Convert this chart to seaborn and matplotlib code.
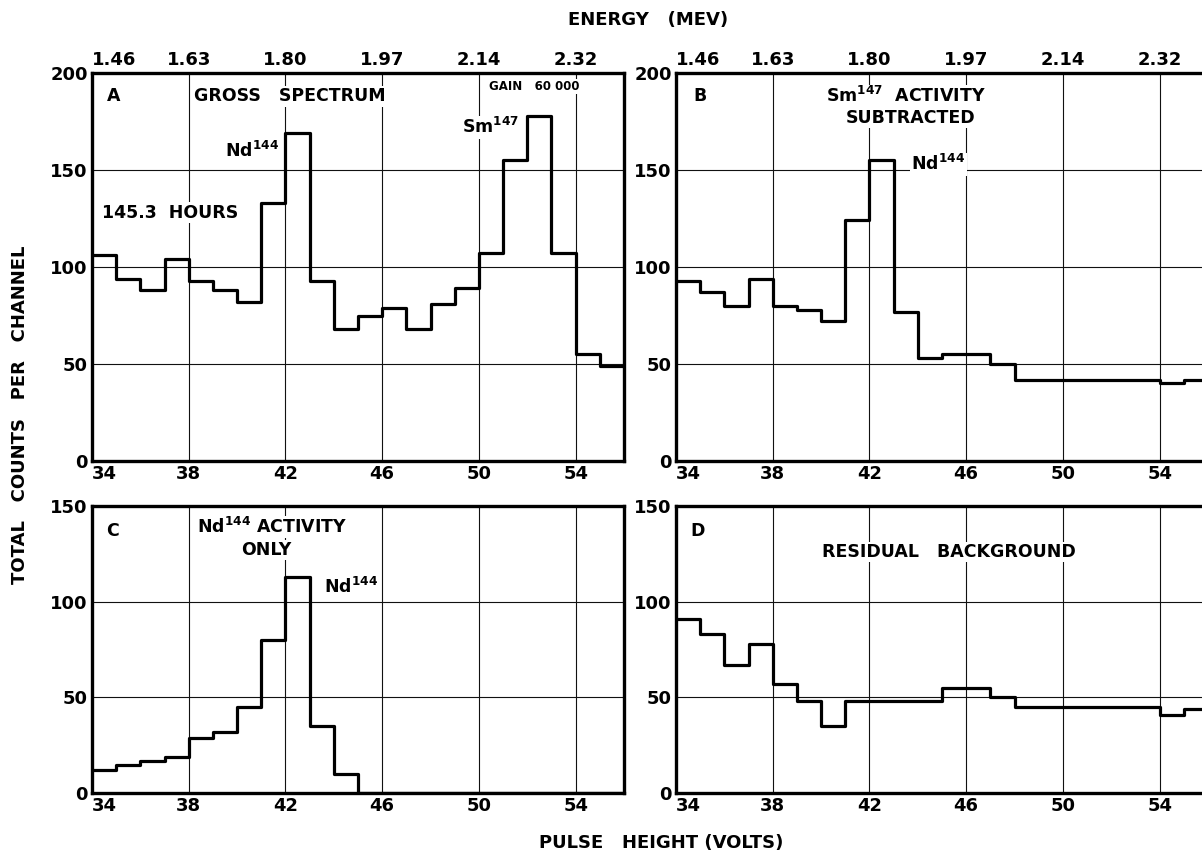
import numpy as np
import pandas as pd
import matplotlib
matplotlib.use('Agg')
import matplotlib.pyplot as plt
import seaborn as sns

sns.set_style('white')
plt.rcParams['font.family'] = ['DejaVu Sans']
plt.rcParams['font.weight'] = 'bold'
plt.rcParams['mathtext.default'] = 'regular'
plt.rcParams['text.color'] = 'black'
plt.rcParams['xtick.color'] = 'black'
plt.rcParams['ytick.color'] = 'black'

# channel edges (pulse height, volts) -- 22 one-volt channels from 34 to 56
volt_edges = list(range(34, 57))
volt_ticks = [34, 38, 42, 46, 50, 54]
energy_labels = ['1.46', '1.63', '1.80', '1.97', '2.14', '2.32']

# counts per channel
gross = [106, 94, 88, 104, 93, 88, 82, 133, 169, 93, 68, 75, 79, 68, 81, 89,
         107, 155, 178, 107, 55, 49]
sm_subtracted = [93, 87, 80, 94, 80, 78, 72, 124, 155, 77, 53, 55, 55, 50,
                 42, 42, 42, 42, 42, 42, 40, 42]
nd_only = [12, 14.5, 16.5, 19, 29, 32, 45, 80, 113, 35, 10,
           0, 0, 0, 0, 0, 0, 0, 0, 0, 0, 0]
residual = [91, 83, 67, 78, 57, 48, 35, 48, 48, 48, 48, 55, 55, 50,
            45, 45, 45, 45, 45, 45, 41, 44]

W, H = 1202, 852
fig = plt.figure(figsize=(W / 100, H / 100), dpi=100)


def rect(x0, y0, x1, y1):
    return [x0 / W, 1 - y1 / H, (x1 - x0) / W, (y1 - y0) / H]


def note(ax, x, y, s, size=12.5, ha='center'):
    ax.text(x, y, s, fontsize=size, ha=ha, va='center', zorder=4,
            bbox=dict(facecolor='white', edgecolor='none', pad=1.0))


def panel(box, counts, ymax, yticks, top_energy):
    ax = fig.add_axes(rect(*box))
    df = pd.DataFrame({'volts': volt_edges, 'counts': counts + [counts[-1]]})
    sns.lineplot(data=df, x='volts', y='counts', drawstyle='steps-post',
                 estimator=None, color='black', linewidth=2.3, ax=ax, zorder=5)
    ax.set_xlim(34, 56)
    ax.set_ylim(0, ymax)
    ax.set_xlabel('')
    ax.set_ylabel('')
    for v in volt_ticks[1:]:
        ax.axvline(v, color='#111111', linewidth=0.8, zorder=1)
    for t in yticks[1:-1]:
        ax.axhline(t, color='#111111', linewidth=0.8, zorder=1)
    ax.set_xticks(volt_ticks)
    ax.set_xticklabels([str(v) for v in volt_ticks], fontsize=13)
    ax.get_xticklabels()[0].set_ha('left')
    ax.set_yticks(yticks)
    ax.set_yticklabels([str(t) for t in yticks], fontsize=13)
    ax.tick_params(length=0, pad=3)
    for sp in ax.spines.values():
        sp.set_visible(True)
        sp.set_linewidth(2.4)
        sp.set_color('black')
    if top_energy:
        sec = ax.secondary_xaxis('top', functions=(lambda x: x, lambda x: x))
        sec.set_xticks(volt_ticks)
        sec.set_xticklabels(energy_labels, fontsize=13)
        sec.get_xticklabels()[0].set_ha('left')
        sec.tick_params(length=0, pad=3)
        for sp in sec.spines.values():
            sp.set_visible(False)
    return ax


ax_a = panel((92, 73, 624, 461), gross, 200, [0, 50, 100, 150, 200], True)
ax_b = panel((676, 73, 1208, 461), sm_subtracted, 200, [0, 50, 100, 150, 200], True)
ax_c = panel((92, 506, 624, 793), nd_only, 150, [0, 50, 100, 150], False)
ax_d = panel((676, 506, 1208, 793), residual, 150, [0, 50, 100, 150], False)

# panel A
note(ax_a, 34.9, 188, 'A')
note(ax_a, 42.2, 188, 'GROSS   SPECTRUM')
note(ax_a, 52.3, 193, 'GAIN   60 000', size=8.5)
note(ax_a, 50.5, 172, 'Sm$^{147}$')
note(ax_a, 40.6, 160, 'Nd$^{144}$')
note(ax_a, 37.25, 128, '145.3  HOURS')

# panel B
note(ax_b, 35.0, 188, 'B')
note(ax_b, 43.5, 188, 'Sm$^{147}$  ACTIVITY')
note(ax_b, 43.7, 177, 'SUBTRACTED')
note(ax_b, 44.85, 153, 'Nd$^{144}$')

# panel C
note(ax_c, 34.85, 137, 'C')
note(ax_c, 41.45, 139, 'Nd$^{144}$ ACTIVITY')
note(ax_c, 41.2, 127, 'ONLY')
note(ax_c, 44.7, 107.5, 'Nd$^{144}$')

# panel D
note(ax_d, 34.9, 137, 'D')
note(ax_d, 45.3, 126, 'RESIDUAL   BACKGROUND')

fig.text(648 / W, 1 - 20 / H, 'ENERGY   (MEV)', fontsize=13, ha='center', va='center')
fig.text(661 / W, 1 - 843 / H, 'PULSE   HEIGHT (VOLTS)', fontsize=13, ha='center', va='center')
fig.text(20 / W, 1 - 415 / H, 'TOTAL   COUNTS   PER   CHANNEL', fontsize=13,
         rotation=90, ha='center', va='center')

fig.savefig('out.png', dpi=100, facecolor='white')
